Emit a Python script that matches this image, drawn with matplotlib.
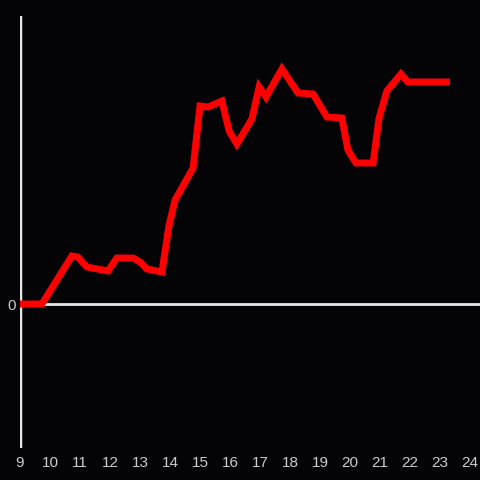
import matplotlib
matplotlib.use("Agg")
import matplotlib.pyplot as plt

hours = [9.0, 9.73, 10.73, 10.93, 11.23, 11.93, 12.23, 12.77, 13.0, 13.23, 13.73,
         13.97, 14.17, 14.77, 15.0, 15.27, 15.73, 15.97, 16.23, 16.73, 16.97, 17.2,
         17.73, 18.27, 18.77, 19.23, 19.73, 19.93, 20.2, 20.77, 20.97, 21.23, 21.7,
         21.93, 23.33]
values = [0, 0, 48, 47, 37, 33, 46, 46, 42, 35, 32,
          79, 104, 136, 198, 197, 203, 173, 160, 185, 217, 207,
          235, 211, 210, 187, 186, 154, 141, 141, 186, 213, 230,
          222, 222]
xticks = list(range(9, 25))

bg = '#040306'
fig = plt.figure(figsize=(4.8, 4.8), dpi=100, facecolor=bg)
ax = fig.add_axes([20/480, 32/480, 460/480, 432/480], facecolor=bg)
ax.plot(hours, values, color='#ff0000', linewidth=5, solid_joinstyle='miter',
        solid_capstyle='butt', zorder=3)
ax.set_xlim(9, 9 + 460/30)
ax.set_ylim(-144, 288)
for s in ax.spines.values():
    s.set_visible(False)
ax.axhline(0, color='#e6e6e6', linewidth=2, zorder=2)
ax.axvline(9, color='#e6e6e6', linewidth=2.5, zorder=2)
ax.set_xticks(xticks)
ax.set_xticklabels([str(t) for t in xticks])
ax.set_yticks([0])
ax.set_yticklabels(['0'])
ax.tick_params(axis='both', length=0, colors='#cccccc', labelsize=11)
ax.tick_params(axis='x', pad=6)
ax.tick_params(axis='y', pad=3)
for lab in ax.get_xticklabels() + ax.get_yticklabels():
    lab.set_fontfamily('Liberation Sans')
fig.savefig('out.png', dpi=100, facecolor=bg)
